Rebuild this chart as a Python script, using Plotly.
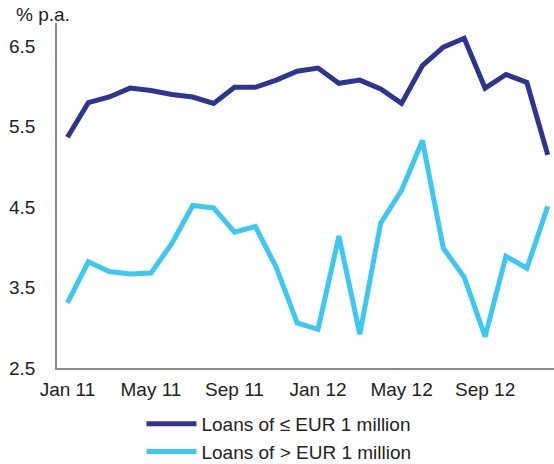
import plotly.graph_objects as go

months = ["Jan 11","Feb 11","Mar 11","Apr 11","May 11","Jun 11","Jul 11","Aug 11","Sep 11","Oct 11","Nov 11","Dec 11",
          "Jan 12","Feb 12","Mar 12","Apr 12","May 12","Jun 12","Jul 12","Aug 12","Sep 12","Oct 12","Nov 12","Dec 12"]
small_loans = [5.37, 5.80, 5.87, 5.98, 5.95, 5.90, 5.87, 5.79, 5.99, 5.99, 6.08, 6.19,
               6.23, 6.04, 6.08, 5.97, 5.79, 6.26, 6.49, 6.60, 5.98, 6.15, 6.05, 5.15]
large_loans = [3.31, 3.82, 3.70, 3.67, 3.68, 4.05, 4.52, 4.49, 4.19, 4.26, 3.75, 3.06,
               2.98, 4.14, 2.92, 4.30, 4.71, 5.33, 3.99, 3.63, 2.89, 3.89, 3.74, 4.51]
tick_labels = ["Jan 11", "May 11", "Sep 11", "Jan 12", "May 12", "Sep 12"]
y_ticks = [2.5, 3.5, 4.5, 5.5, 6.5]

idx = list(range(len(months)))
font = "Liberation Sans, Arial, sans-serif"

fig = go.Figure()
fig.add_trace(go.Scatter(x=idx, y=small_loans, mode="lines", name="Loans of \u2264 EUR 1 million",
                         line=dict(color="#2E3590", width=5), text=months))
fig.add_trace(go.Scatter(x=idx, y=large_loans, mode="lines", name="Loans of > EUR 1 million",
                         line=dict(color="#3CC8F0", width=5), text=months))

fig.update_layout(
    width=554, height=464,
    margin=dict(l=57, r=0, t=23, b=96, autoexpand=False),
    paper_bgcolor="white", plot_bgcolor="white",
    font=dict(family=font, size=19, color="#222222"),
    showlegend=True,
    legend=dict(orientation="v", x=0.17, xanchor="left", y=-0.107, yanchor="top",
                font=dict(size=19, color="#222222"), tracegroupgap=0, itemwidth=50,
                bgcolor="rgba(0,0,0,0)"),
    xaxis=dict(range=[-0.5, 23.3], tickvals=[0, 4, 8, 12, 16, 20], ticktext=tick_labels,
               showgrid=False, zeroline=False, showline=True, linecolor="#8a8a8a", linewidth=1.5,
               ticks="", ticklabelstandoff=3, automargin=False),
    yaxis=dict(range=[2.5, 6.79], tickvals=y_ticks, ticktext=["2.5", "3.5", "4.5", "5.5", "6.5"],
               showgrid=False, zeroline=False, showline=True, linecolor="#8a8a8a", linewidth=1.5,
               ticks="", ticklabelstandoff=16, automargin=False),
    annotations=[dict(text="% p.a.", x=(14 - 57) / 497, y=(464 - 96 - 15) / 345,
                      xref="paper", yref="paper", xanchor="left", yanchor="middle",
                      showarrow=False)],
)

fig.write_html("out.html", config={"displayModeBar": False},
               post_script="document.body.style.margin='0';document.body.style.overflow='hidden';")
